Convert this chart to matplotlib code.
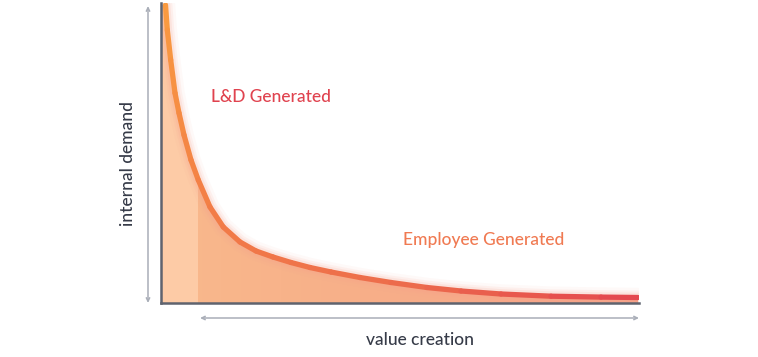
import numpy as np
import matplotlib.pyplot as plt
from matplotlib.collections import LineCollection
from matplotlib.colors import LinearSegmentedColormap

# curve (value creation vs internal demand, arbitrary units)
value_creation = [4.5, 6.3, 9.7, 14, 18, 23, 30, 37.3, 49, 62.3, 79, 95,
                  112, 130, 149, 170, 199, 230, 266, 300, 340, 390, 440, 477]
internal_demand = [298, 273, 243, 210, 190, 168, 143, 123, 96, 76, 61, 52,
                   46, 40.5, 35.5, 31, 25.5, 20.5, 15.5, 12, 9, 6.8, 5.9, 5.5]
ld_cutoff = 36.5  # end of the lighter "L&D" band

labels = {"ld": "L&D Generated", "emp": "Employee Generated",
          "x": "value creation", "y": "internal demand"}

plt.rcParams["font.family"] = ["Lato", "DejaVu Sans"]

W, H = 758, 357
fig = plt.figure(figsize=(W / 100, H / 100), dpi=100)
ax = fig.add_axes([161 / W, 54 / H, 478 / W, 300 / H])
ax.set_xlim(0, 478)
ax.set_ylim(0, 300)

x = np.array(value_creation)
y = np.array(internal_demand)

# area under the curve: gradient image clipped to the polygon
poly = plt.Polygon(np.column_stack([np.r_[0, x, x[-1], 0],
                                    np.r_[y[0], y, 0, 0]]),
                   closed=True, facecolor="none", edgecolor="none")
ax.add_patch(poly)
fill_cmap = LinearSegmentedColormap.from_list("fill", ["#f9b98c", "#f7ad88", "#f5a58a"])
grad = np.linspace(0, 1, 256).reshape(1, -1)
im = ax.imshow(grad, extent=[0, 478, 0, 300], aspect="auto", cmap=fill_cmap,
               origin="lower", zorder=1)
im.set_clip_path(poly)
light = ax.fill_between([0, ld_cutoff], 0, 300, color="#fdcba6", zorder=1.5, lw=0)
light.set_clip_path(poly)

# soft glow + colour-graded line
for lw, a in [(14, 0.06), (10, 0.10), (7, 0.15)]:
    ax.plot(x, y, color="#f6a08c", lw=lw, alpha=a, solid_capstyle="round", zorder=2)
pts = np.column_stack([x, y]).reshape(-1, 1, 2)
segs = np.concatenate([pts[:-1], pts[1:]], axis=1)
line_cmap = LinearSegmentedColormap.from_list("line", ["#f99c40", "#f27c47", "#ec6a4c", "#e3464f"])
t = np.cumsum(np.r_[0, np.hypot(np.diff(x), np.diff(y))])
t = t / t[-1]
lc = LineCollection(segs, colors=line_cmap(0.5 * (t[:-1] + t[1:])), linewidths=3.8,
                    capstyle="round", joinstyle="round", zorder=3)
ax.add_collection(lc)

for s in ["top", "right"]:
    ax.spines[s].set_visible(False)
for s in ["left", "bottom"]:
    ax.spines[s].set_color("#5f636e")
    ax.spines[s].set_linewidth(1.8)
    ax.spines[s].set_zorder(4)
ax.set_xticks([])
ax.set_yticks([])

# dimension arrows (figure fraction)
arrow = dict(arrowstyle="<->,head_length=0.25,head_width=0.12", color="#a9aeb8", lw=1.1,
             shrinkA=0, shrinkB=0)
ax.annotate("", xy=(148 / W, 1 - 6 / H), xytext=(148 / W, 1 - 303 / H),
            xycoords="figure fraction", textcoords="figure fraction", arrowprops=arrow)
ax.annotate("", xy=(200 / W, 1 - 318 / H), xytext=(639 / W, 1 - 318 / H),
            xycoords="figure fraction", textcoords="figure fraction", arrowprops=arrow)

txt = dict(ha="center", va="center", fontsize=12.5, fontweight="medium")
fig.text(128 / W, 1 - 164 / H, labels["y"], rotation=90, color="#363b48", **txt)
fig.text(420 / W, 1 - 340 / H, labels["x"], color="#363b48", **txt)
fig.text(271 / W, 1 - 97 / H, labels["ld"], color="#e0434f", **txt)
fig.text(484 / W, 1 - 240 / H, labels["emp"], color="#f07a52", **txt)

fig.savefig("out.png", dpi=100)
